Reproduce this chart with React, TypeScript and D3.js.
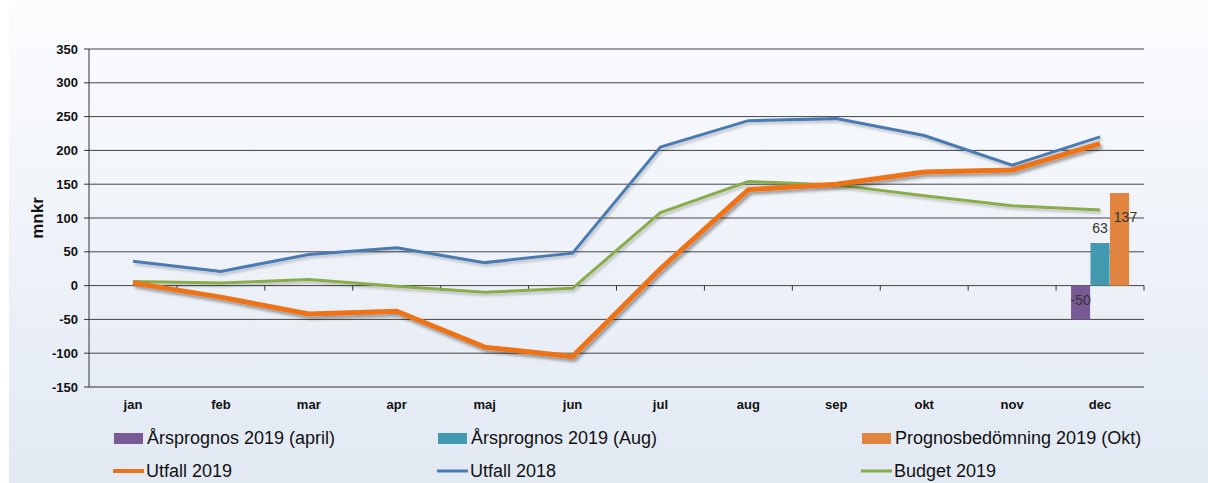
import React from 'react';
import * as d3 from 'd3';

const months = ['jan', 'feb', 'mar', 'apr', 'maj', 'jun', 'jul', 'aug', 'sep', 'okt', 'nov', 'dec'];
const utfall2019 = [4, -17, -42, -38, -91, -105, 25, 142, 150, 168, 171, 210];
const utfall2018 = [36, 21, 46, 56, 34, 48, 205, 244, 247, 222, 178, 220];
const budget2019 = [6, 4, 9, -1, -10, -4, 108, 154, 149, 133, 118, 112];

const barSeries = ['Årsprognos 2019 (april)', 'Årsprognos 2019 (Aug)', 'Prognosbedömning 2019 (Okt)'];
const barValues = [-50, 63, 137];
const barMonth = 'dec';
const yTicks = [-150, -100, -50, 0, 50, 100, 150, 200, 250, 300, 350];

const barColors = ['#785b94', '#4299b0', '#e1843f'];
// label offsets as Excel placed them (inside / above / overlapping)
const labelOffsets = [
  { dx: 0, dy: 19 },
  { dx: 0, dy: -10 },
  { dx: 6, dy: 29 },
];

const W = 1208;
const H = 483;
const left = 89;
const right = 1144;
const top = 49;
const bottom = 387;

export default function App() {
  const x = d3.scaleBand<string>().domain(months).range([left, right]);
  const y = d3.scaleLinear().domain([-150, 350]).range([bottom, top]);
  const cx = (m: string) => (x(m) as number) + x.bandwidth() / 2;

  const line = d3
    .line<number>()
    .x((_, i) => cx(months[i]))
    .y((d) => y(d));

  const bc = cx(barMonth);
  const xb = d3.scaleBand<number>().domain([0, 1, 2]).range([bc - 29, bc + 29]).paddingInner(0.02);

  const font = 'Liberation Sans, Arial, sans-serif';

  const legend = [
    { label: barSeries[0], type: 'bar', color: barColors[0], x: 114, y: 438 },
    { label: barSeries[1], type: 'bar', color: barColors[1], x: 438, y: 438 },
    { label: barSeries[2], type: 'bar', color: barColors[2], x: 862, y: 438 },
    { label: 'Utfall 2019', type: 'line', color: '#ee7219', w: 4, x: 113, y: 471 },
    { label: 'Utfall 2018', type: 'line', color: '#4a7ab4', w: 3, x: 437, y: 471 },
    { label: 'Budget 2019', type: 'line', color: '#89ac4a', w: 3, x: 861, y: 471 },
  ];

  return (
    <svg width={W} height={H} style={{ position: 'absolute', left: 0, top: 0 }} fontFamily={font}>
      <defs>
        <linearGradient id="bg" x1="0" y1="0" x2="0" y2="1">
          <stop offset="0" stopColor="#fbfcfe" />
          <stop offset="1" stopColor="#e2e9f3" />
        </linearGradient>
        <filter id="shadow" x="-5%" y="-20%" width="110%" height="140%">
          <feDropShadow dx="2" dy="3" stdDeviation="1.5" floodColor="#000" floodOpacity="0.35" />
        </filter>
        <filter id="shadowLight" x="-5%" y="-20%" width="110%" height="140%">
          <feDropShadow dx="1.5" dy="2.5" stdDeviation="1.2" floodColor="#000" floodOpacity="0.2" />
        </filter>
      </defs>
      <rect x={0} y={0} width={W} height={H} fill="#fff" />
      <rect x={9} y={0} width={W - 9} height={H} fill="url(#bg)" />

      {/* grid */}
      {yTicks.map((t) => (
        <g key={t}>
          {t !== -150 && (
            <line x1={left} x2={right} y1={y(t)} y2={y(t)} stroke="#444" strokeWidth={1} />
          )}
          <line x1={left - 5} x2={left} y1={y(t)} y2={y(t)} stroke="#333" />
          <text x={left - 11} y={y(t)} dy="0.35em" textAnchor="end" fontSize={13} fontWeight="bold" fill="#111">
            {t}
          </text>
        </g>
      ))}
      <line x1={left} x2={right} y1={bottom} y2={bottom} stroke="#8a8c90" strokeWidth={2} />
      <line x1={left} x2={left} y1={top} y2={bottom} stroke="#333" />

      {/* category ticks on zero line */}
      {months.map((m) => (
        <line
          key={m}
          x1={(x(m) as number) + x.bandwidth()}
          x2={(x(m) as number) + x.bandwidth()}
          y1={y(0)}
          y2={y(0) + 5}
          stroke="#333"
        />
      ))}
      {months.map((m) => (
        <text key={m} x={cx(m)} y={409} textAnchor="middle" fontSize={13} fontWeight="bold" fill="#111">
          {m}
        </text>
      ))}

      <text
        transform={`translate(43, 218) rotate(-90)`}
        textAnchor="middle"
        fontSize={17}
        fontWeight="bold"
        fill="#111"
      >
        mnkr
      </text>

      {/* bars */}
      {barValues.map((v, i) => (
        <rect
          key={i}
          x={xb(i)}
          width={xb.bandwidth()}
          y={Math.min(y(v), y(0))}
          height={Math.abs(y(v) - y(0))}
          fill={barColors[i]}
        />
      ))}

      {/* lines */}
      <path d={line(budget2019) || ''} fill="none" stroke="#89ac4a" strokeWidth={3} filter="url(#shadowLight)" />
      <path d={line(utfall2018) || ''} fill="none" stroke="#4a7ab4" strokeWidth={3} filter="url(#shadowLight)" />
      <path d={line(utfall2019) || ''} fill="none" stroke="#ee7219" strokeWidth={5} filter="url(#shadow)" />

      {/* bar labels */}
      {barValues.map((v, i) => (
        <text
          key={i}
          x={(xb(i) as number) + xb.bandwidth() / 2 + labelOffsets[i].dx}
          y={y(Math.max(v, 0)) + labelOffsets[i].dy}
          textAnchor="middle"
          fontSize={14}
          fill="#333"
        >
          {v}
        </text>
      ))}

      {/* legend */}
      {legend.map((l) => (
        <g key={l.label}>
          {l.type === 'bar' ? (
            <rect x={l.x} y={l.y - 5} width={29} height={11} fill={l.color} />
          ) : (
            <line x1={l.x} x2={l.x + 31} y1={l.y} y2={l.y} stroke={l.color} strokeWidth={l.w} />
          )}
          <text x={l.x + 33} y={l.y} dy="0.36em" fontSize={18} fill="#111">
            {l.label}
          </text>
        </g>
      ))}
    </svg>
  );
}
